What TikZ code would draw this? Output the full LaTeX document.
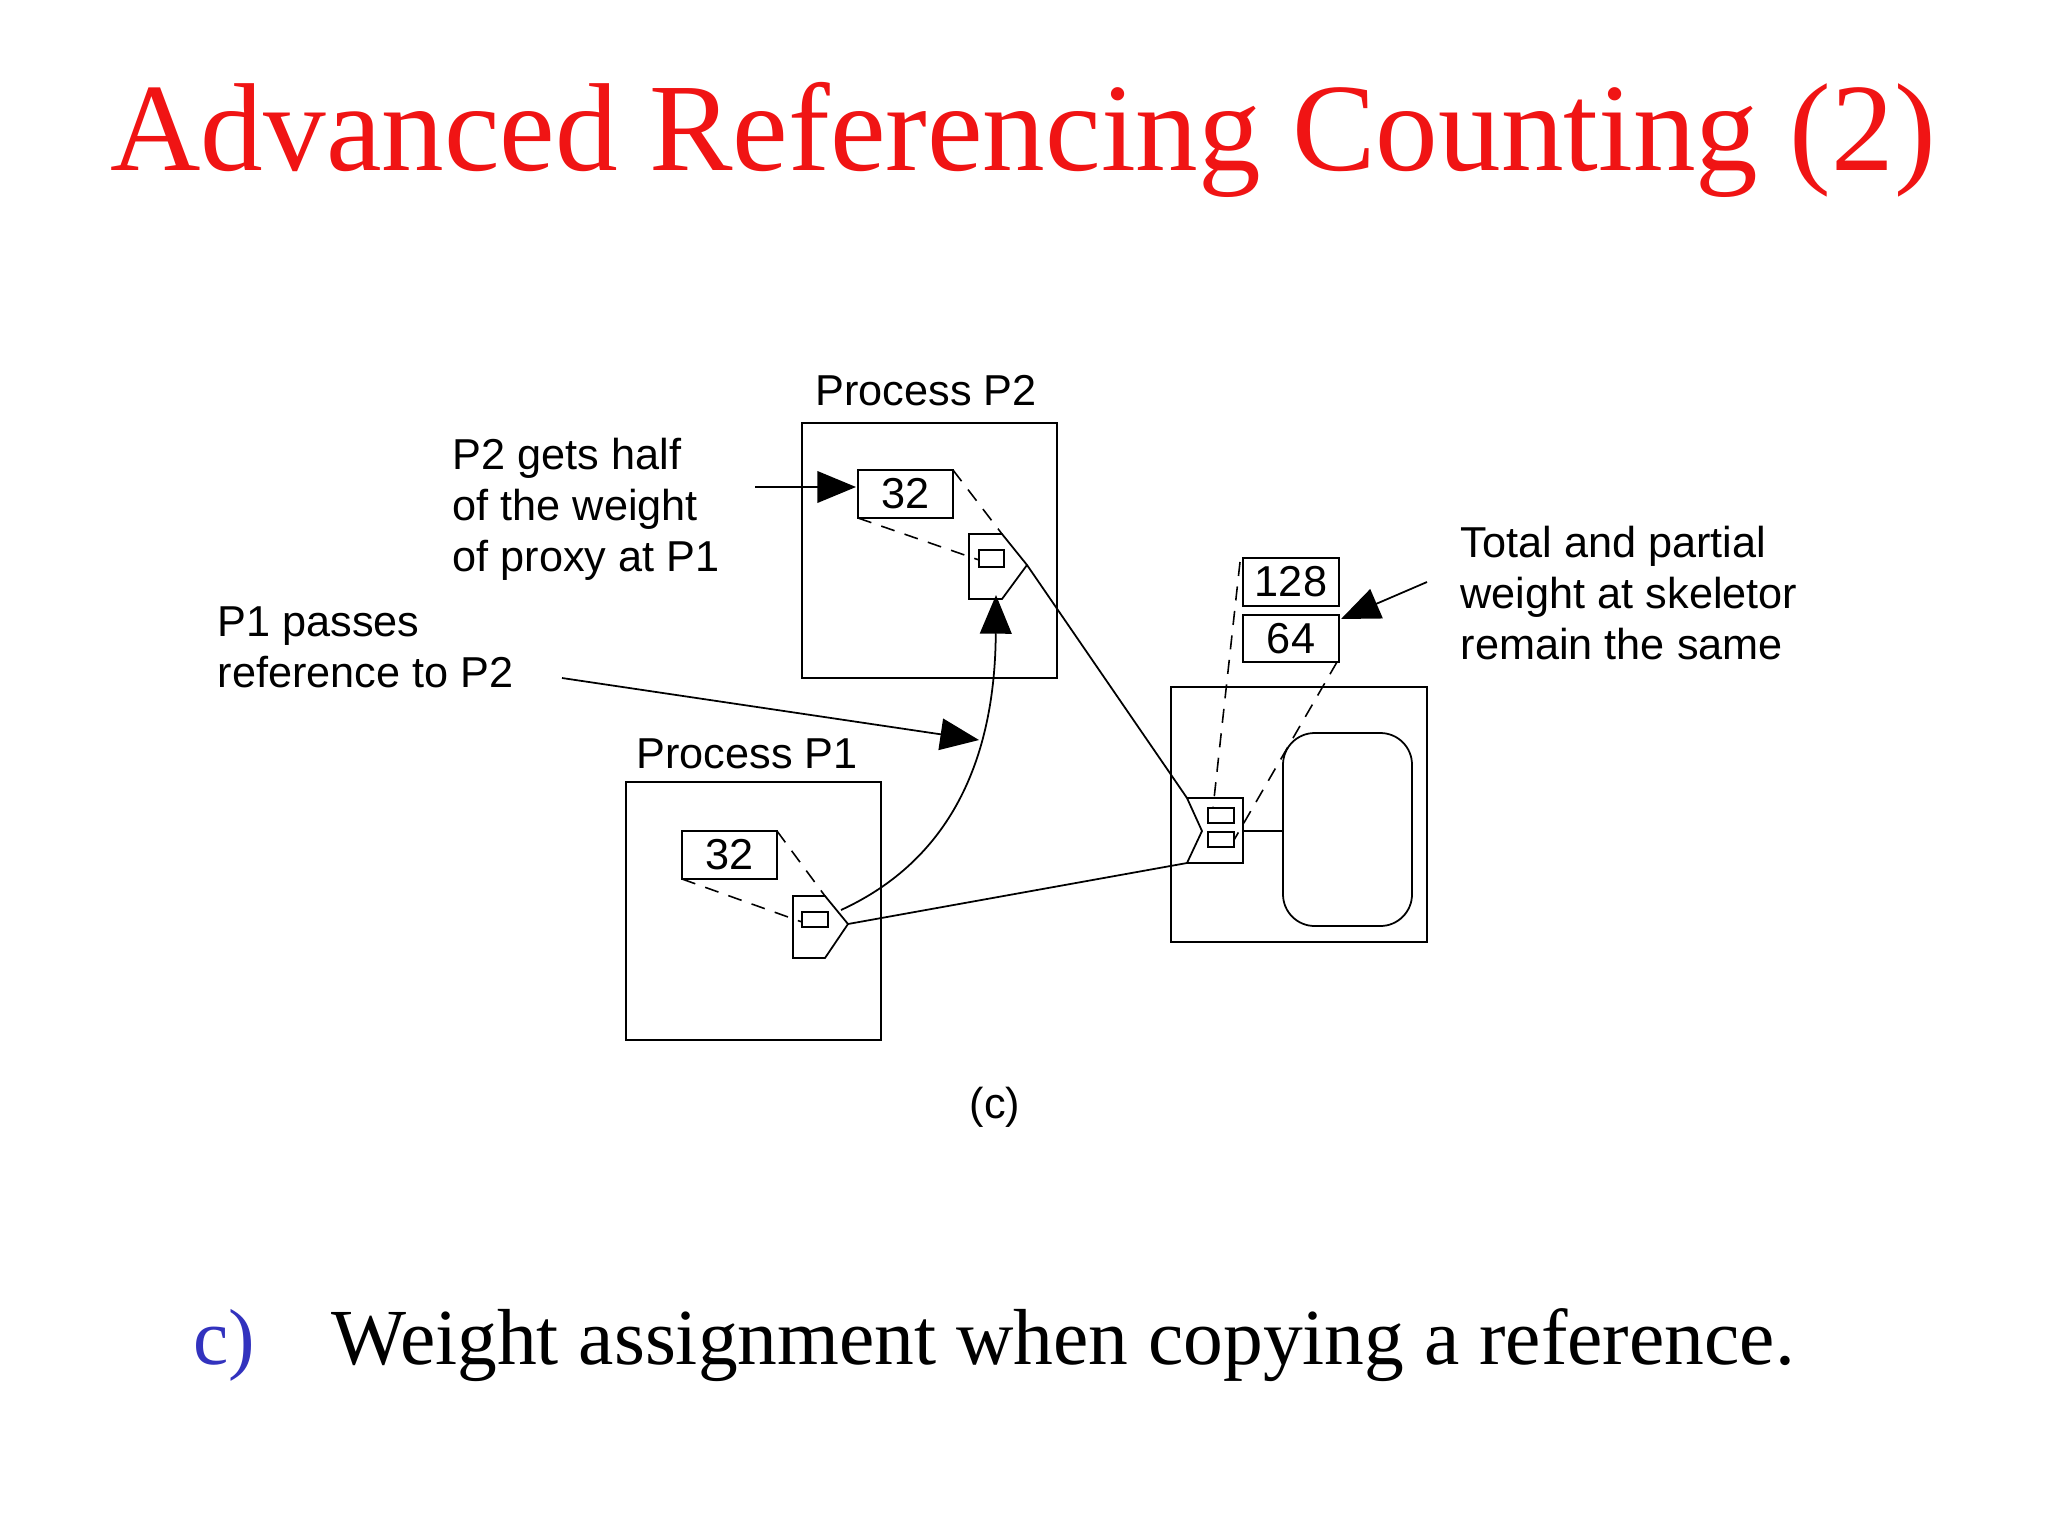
\documentclass[tikz,border=0pt]{standalone}
\usepackage{fontspec}
\setmainfont{Liberation Serif}
\newfontfamily\arial{Liberation Sans}
\usetikzlibrary{arrows.meta}
\definecolor{titlered}{RGB}{240,20,20}
\definecolor{itemblue}{RGB}{50,50,190}
\begin{document}
\begin{tikzpicture}[x=0.01cm,y=-0.01cm,
  lbl/.style={font=\arial\fontsize{12.3}{14.5}\selectfont, inner sep=0pt},
  thin/.style={line width=0.5pt},
  dsh/.style={line width=0.45pt, dash pattern=on 4pt off 3pt},
  tip/.style={-{Triangle[length=11pt,width=9pt]}, line width=0.5pt}]
\useasboundingbox (0,0) rectangle (2048,1536);
\fill[white] (0,0) rectangle (2048,1536);
\node[font=\fontsize{35.6}{40}\selectfont, text=titlered] (title) at (1023,140) {Advanced Referencing Counting (2)};
% boxes
\draw[thin] (802,423) rectangle (1057,678);
\draw[thin] (626,782) rectangle (881,1040);
\draw[thin] (1171,687) rectangle (1427,942);
\node[lbl] (lp2) at (926,391) {Process P2};
\node[lbl] (lp1) at (747,754) {Process P1};
% weight boxes
\draw[thin] (858,470) rectangle (953,518); \node[lbl] (w2) at (905.5,494) {32};
\draw[thin] (682,831) rectangle (777,879); \node[lbl] (w1) at (729.5,855) {32};
\draw[thin] (1243,558) rectangle (1339,606); \node[lbl] (w128) at (1291,582) {128};
\draw[thin] (1243,615) rectangle (1339,662); \node[lbl] (w64) at (1291,638.5) {64};
% proxies
\draw[thin] (969,534) -- (1002,534) -- (1027,565) -- (1002,599) -- (969,599) -- cycle;
\draw[thin] (979,550) rectangle (1004,567);
\draw[thin] (793,896) -- (825,896) -- (848,924) -- (825,958) -- (793,958) -- cycle;
\draw[thin] (802,912) rectangle (828,927);
% skeleton
\draw[thin] (1187,798) -- (1243,798) -- (1243,863) -- (1187,863) -- (1202,831) -- cycle;
\draw[thin] (1208,808) rectangle (1234,823);
\draw[thin] (1208,832) rectangle (1234,847);
\draw[thin,rounded corners=9pt] (1283,733) rectangle (1412,926);
\draw[thin] (1243,831) -- (1283,831);
% dashed
\draw[dsh] (953,470) -- (1002,534);
\draw[dsh] (858,518) -- (979,560);
\draw[dsh] (777,831) -- (825,896);
\draw[dsh] (682,879) -- (802,922);
\draw[dsh] (1240,562) -- (1213,808);
\draw[dsh] (1337,662) -- (1234,840);
% connectors
\draw[thin] (1027,565) -- (1187,798);
\draw[thin] (848,924) -- (1187,863);
\draw[tip] (841,910) .. controls (950,860) and (995,760) .. (996,595);
% annotations
\node[lbl,align=left,anchor=north west] (a1) at (452,437) {P2 gets half\\of the weight\\of proxy at P1};
\node[lbl,align=left,anchor=north west] (a2) at (217,606) {P1 passes\\reference to P2};
\node[lbl,align=left,anchor=north west] (a3) at (1460,525) {Total and partial\\weight at skeletor\\remain the same};
\draw[tip] (755,487) -- (856,487);
\draw[tip] (562,678) -- (979,740);
\draw[tip] (1427,582) -- (1341,619);
\node[lbl] (cap) at (995,1107) {(c)};
\node[font=\fontsize{22.6}{28}\selectfont, text=itemblue, anchor=west] (c) at (181,1345) {c)};
\node[font=\fontsize{22.6}{28}\selectfont, anchor=west] (txt) at (319,1345) {Weight assignment when copying a reference.};
\end{tikzpicture}
\end{document}
